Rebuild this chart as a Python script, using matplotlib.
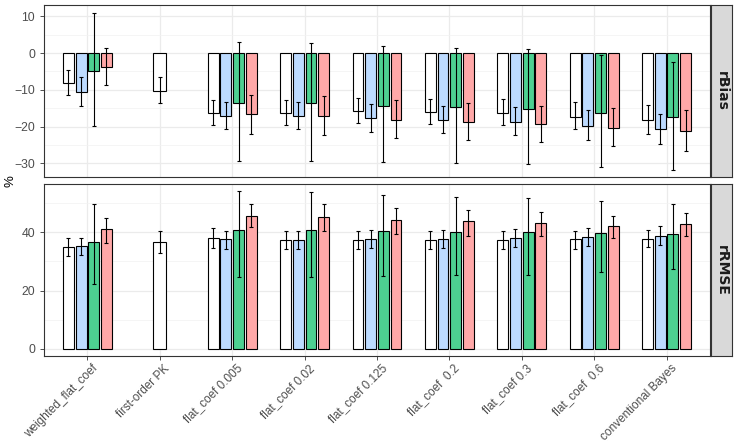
import numpy as np
from matplotlib import pyplot as plt
from matplotlib.ticker import MultipleLocator
from matplotlib.transforms import ScaledTranslation

plt.rcParams['font.family'] = ['Liberation Sans', 'DejaVu Sans']

categories = ["weighted_flat_coef", "first-order PK", "flat_coef 0.005", "flat_coef 0.02",
              "flat_coef 0.125", "flat_coef  0.2", "flat_coef 0.3", "flat_coef  0.6",
              "conventional Bayes"]
nan = np.nan

# rBias (%) per fill group: mean, lower, upper
bias_white = [-8.2, -10.2, -16.4, -16.4, -15.8, -15.9, -16.3, -17.3, -18.3]
bias_white_lo = [-11.5, -13.5, -19.7, -19.5, -19.0, -19.3, -19.7, -20.7, -21.9]
bias_white_hi = [-4.6, -6.5, -12.8, -12.9, -12.2, -12.5, -12.5, -13.4, -14.1]

bias_blue = [-10.5, nan, -17.1, -17.2, -17.8, -18.3, -18.7, -19.9, -20.7]
bias_blue_lo = [-14.3, nan, -20.6, -20.7, -21.4, -21.8, -22.4, -23.6, -24.8]
bias_blue_hi = [-6.6, nan, -13.2, -13.3, -13.9, -14.4, -14.6, -15.6, -16.5]

bias_green = [-5.0, nan, -13.5, -13.6, -14.3, -14.6, -15.1, -16.4, -17.5]
bias_green_lo = [-19.9, nan, -29.5, -29.5, -29.7, -29.9, -30.3, -31.0, -31.8]
bias_green_hi = [10.9, nan, 3.1, 2.8, 1.9, 1.3, 1.0, -0.5, -2.3]

bias_pink = [-3.9, nan, -16.7, -17.0, -18.1, -18.7, -19.3, -20.3, -21.3]
bias_pink_lo = [-8.8, nan, -22.1, -22.3, -23.2, -23.6, -24.1, -25.2, -26.6]
bias_pink_hi = [1.5, nan, -11.4, -11.6, -12.9, -13.5, -14.3, -15.0, -15.4]

# rRMSE (%)
rmse_white = [35.1, 36.8, 37.9, 37.5, 37.3, 37.3, 37.3, 37.6, 37.8]
rmse_white_lo = [31.7, 32.9, 34.5, 34.2, 34.2, 34.2, 34.2, 34.4, 34.8]
rmse_white_hi = [38.1, 40.5, 41.4, 40.5, 40.4, 40.4, 40.4, 40.5, 40.9]

rmse_blue = [35.3, nan, 37.6, 37.5, 37.8, 37.8, 37.9, 38.4, 38.8]
rmse_blue_lo = [32.1, nan, 34.4, 34.4, 34.5, 34.7, 34.9, 35.2, 35.5]
rmse_blue_hi = [38.1, nan, 40.5, 40.5, 40.8, 40.9, 41.2, 41.5, 42.0]

rmse_green = [36.7, nan, 40.8, 40.8, 40.3, 40.1, 40.0, 39.6, 39.5]
rmse_green_lo = [22.2, nan, 24.6, 24.6, 25.1, 25.3, 25.5, 26.2, 27.5]
rmse_green_hi = [49.7, nan, 54.1, 53.8, 52.8, 52.3, 51.9, 50.9, 49.8]

rmse_pink = [41.1, nan, 45.7, 45.4, 44.4, 43.8, 43.1, 42.2, 42.8]
rmse_pink_lo = [36.5, nan, 41.8, 40.3, 39.4, 38.9, 38.6, 37.9, 38.6]
rmse_pink_hi = [45.0, nan, 49.9, 49.7, 48.5, 47.7, 46.9, 45.7, 46.6]

fills = ["#FFFFFF", "#BDDBFF", "#4DD091", "#FFA8A8"]


def draw_panel(ax, series, ylim, yticks):
    x = np.arange(1, len(categories) + 1)
    vals = np.array([s[0] for s in series], dtype=float)  # (4, ncat)
    n_present = np.sum(~np.isnan(vals), axis=0)
    slot = 0.175
    for k, (y, lo, hi) in enumerate(series):
        y, lo, hi = (np.asarray(a, dtype=float) for a in (y, lo, hi))
        m = ~np.isnan(y)
        off = np.where(n_present == 1, 0.0, (k - 1.5) * slot)
        w = np.where(n_present == 1, 0.18, 0.15)
        ax.bar(x[m] + off[m], y[m], width=w[m], color=fills[k],
               edgecolor="black", linewidth=0.8, zorder=3)
        ax.errorbar(x[m] + off[m], y[m], yerr=[y[m] - lo[m], hi[m] - y[m]],
                    fmt="none", ecolor="black", elinewidth=0.8,
                    capsize=1.3, capthick=0.8, zorder=4)
    ax.set_xlim(0.4, len(categories) + 0.6)
    ax.set_ylim(*ylim)
    ax.set_yticks(yticks)
    ax.yaxis.set_minor_locator(MultipleLocator((yticks[1] - yticks[0]) / 2))
    ax.set_xticks(x)
    ax.grid(which="major", color="#EBEBEB", linewidth=0.9, zorder=0)
    ax.grid(which="minor", axis="y", color="#F2F2F2", linewidth=0.5, zorder=0)
    ax.tick_params(which="minor", left=False)
    ax.tick_params(axis="both", which="major", colors="#333333", labelcolor="#4D4D4D",
                   labelsize=8.8, length=3, width=0.6)
    for sp in ax.spines.values():
        sp.set_color("#333333")
        sp.set_linewidth(0.8)
    ax.set_axisbelow(True)


def add_strip(fig, rect, label):
    sax = fig.add_axes(rect)
    sax.set_facecolor("#D9D9D9")
    sax.set_xticks([])
    sax.set_yticks([])
    for sp in sax.spines.values():
        sp.set_color("#333333")
        sp.set_linewidth(0.8)
    sax.text(0.5, 0.5, label, rotation=-90, ha="center", va="center",
             fontsize=10, fontweight="bold", family="DejaVu Sans",
             color="#1A1A1A", transform=sax.transAxes)


W, H = 739, 446
fig = plt.figure(figsize=(W / 100, H / 100), dpi=100)

left, right = 44, 710
top_rect = [left / W, (H - 177.3) / H, (right - left) / W, (177.3 - 5.3) / H]
bot_rect = [left / W, (H - 356.3) / H, (right - left) / W, (356.3 - 184.3) / H]

ax_top = fig.add_axes(top_rect)
draw_panel(ax_top,
           [(bias_white, bias_white_lo, bias_white_hi),
            (bias_blue, bias_blue_lo, bias_blue_hi),
            (bias_green, bias_green_lo, bias_green_hi),
            (bias_pink, bias_pink_lo, bias_pink_hi)],
           (-33.8, 13.0), [-30, -20, -10, 0, 10])
ax_top.tick_params(axis="x", bottom=False, labelbottom=False)

ax_bot = fig.add_axes(bot_rect)
draw_panel(ax_bot,
           [(rmse_white, rmse_white_lo, rmse_white_hi),
            (rmse_blue, rmse_blue_lo, rmse_blue_hi),
            (rmse_green, rmse_green_lo, rmse_green_hi),
            (rmse_pink, rmse_pink_lo, rmse_pink_hi)],
           (-2.6, 56.5), [0, 20, 40])
ax_bot.set_xticklabels(categories, rotation=45, ha="right", rotation_mode="anchor",
                       fontsize=8.5)
shift = ScaledTranslation(4 / 100, 3 / 100, fig.dpi_scale_trans)
for lab in ax_bot.get_xticklabels():
    lab.set_transform(lab.get_transform() + shift)

add_strip(fig, [711 / W, top_rect[1], 21 / W, top_rect[3]], "rBias")
add_strip(fig, [711 / W, bot_rect[1], 21 / W, bot_rect[3]], "rRMSE")

fig.text(10 / W, 1 - 181 / H, "%", rotation=90, ha="center", va="center",
         fontsize=9.5, color="black")

fig.savefig("out.png", dpi=100)
plt.close(fig)
